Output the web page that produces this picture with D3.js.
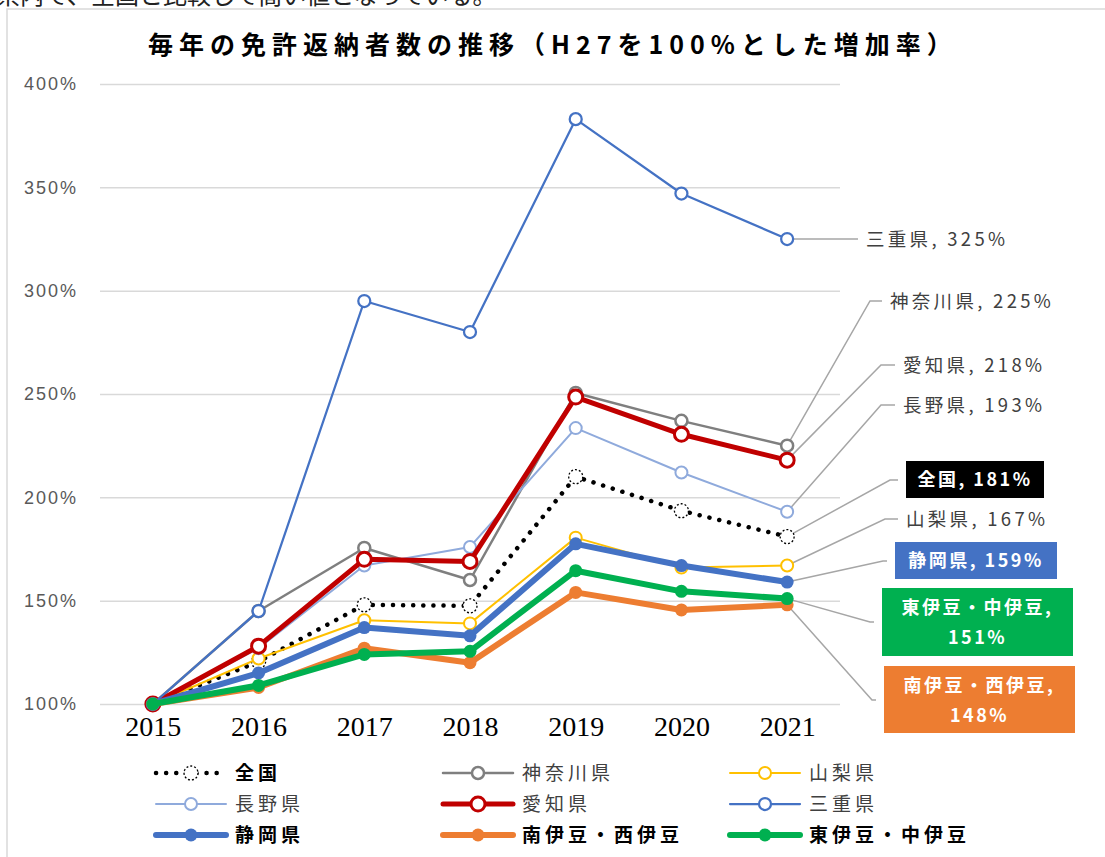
<!DOCTYPE html>
<html>
<head>
<meta charset="utf-8">
<script src="https://cdn.jsdelivr.net/npm/d3@7"></script>
<style>
  body { margin: 0; background: #fff; }
  svg { display: block; }
</style>
</head>
<body>
<div id="chart"></div>
<script>
// data (H27 = 100%)
const years = [2015, 2016, 2017, 2018, 2019, 2020, 2021];
const seriesNames = ["全国", "神奈川県", "山梨県", "長野県", "愛知県", "三重県", "静岡県", "南伊豆・西伊豆", "東伊豆・中伊豆"];
const zenkoku    = [100, 120.5, 148, 147.5, 210, 193.5, 181];
const kanagawa   = [100, 145, 175.5, 160, 250.5, 237, 225];
const yamanashi  = [100, 122, 140.5, 139, 180.5, 166, 167];
const nagano     = [100, 127, 167, 176, 233.5, 212, 193];
const aichi      = [100, 128, 170, 169, 248.5, 230.5, 218];
const mie        = [100, 145, 295, 280, 383, 347, 325];
const shizuoka   = [100, 115, 137, 133, 177.5, 167, 159];
const minamiIzu  = [100, 108, 127, 120, 154, 145.5, 148];
const higashiIzu = [100, 109, 124, 125.5, 164.5, 154.5, 151];
const yTicks = [100, 150, 200, 250, 300, 350, 400];

const seriesValues = [zenkoku, kanagawa, yamanashi, nagano, aichi, mie, shizuoka, minamiIzu, higashiIzu];

// styles, same order as seriesNames
const styles = [
  { color: "#000000", width: 4.5, dotted: true, marker: "dotted", r: 7, bold: true },
  { color: "#7F7F7F", width: 2.5, marker: "open", r: 6, mw: 2.5 },
  { color: "#FFC000", width: 2, marker: "open", r: 6, mw: 2 },
  { color: "#8FAADC", width: 2, marker: "open", r: 6, mw: 2 },
  { color: "#C00000", width: 5, marker: "open", r: 7, mw: 3 },
  { color: "#4472C4", width: 2.25, marker: "open", r: 6, mw: 2.25 },
  { color: "#4472C4", width: 6, marker: "filled", r: 6.5, bold: true },
  { color: "#ED7D31", width: 6, marker: "filled", r: 6.5, bold: true },
  { color: "#00B050", width: 6, marker: "filled", r: 6.5, bold: true }
];

// data-label layout: elbow point, text start, optional box
const labelLayout = [
  { ex: 890, ey: 480, tx: 906, box: [906, 461, 138, 37], fill: "#000000" },
  { ex: 870, ey: 301, tx: 890 },
  { ex: 885, ey: 519, tx: 906 },
  { ex: 881, ey: 405, tx: 903 },
  { ex: 881, ey: 365, tx: 903 },
  { ex: 856, ey: null, tx: 866 },
  { ex: 883, ey: 561, tx: 895, box: [895, 542, 162, 37], fill: "#4472C4" },
  { ex: 872, ey: 700, tx: 884, box: [884, 666, 191, 67], fill: "#ED7D31", wrap: true },
  { ex: 870, ey: 622, tx: 882, box: [882, 588, 191, 68], fill: "#00B050", wrap: true }
];

const W = 1105, H = 857;
const svg = d3.select("#chart").append("svg")
  .attr("width", W).attr("height", H);

// document text cut off above the chart
svg.append("text")
  .attr("x", -4).attr("y", 4)
  .attr("font-family", "Noto Sans CJK JP")
  .attr("font-size", 24)
  .attr("fill", "#222")
  .text("県内で、全国と比較して高い値となっている。");

// chart frame
svg.append("rect")
  .attr("x", 7).attr("y", 9)
  .attr("width", W + 20).attr("height", H + 20)
  .attr("fill", "#fff")
  .attr("stroke", "#d9d9d9")
  .attr("stroke-width", 1.5);

svg.append("text")
  .attr("x", 553).attr("y", 54)
  .attr("text-anchor", "middle")
  .attr("font-family", "Noto Sans CJK JP")
  .attr("font-weight", "bold")
  .attr("font-size", 25)
  .attr("letter-spacing", 6)
  .attr("fill", "#000")
  .text("毎年の免許返納者数の推移（H27を100%とした増加率）");

const x = d3.scalePoint().domain(years).range([100, 840]).padding(0.5);
const y = d3.scaleLinear().domain([100, 400]).range([704, 84]);

// y axis + gridlines
const yAxis = svg.append("g")
  .attr("transform", "translate(100,0)")
  .call(d3.axisLeft(y).tickValues(yTicks).tickSize(-740).tickPadding(22).tickFormat(d => d + "%"));
yAxis.select(".domain").remove();
yAxis.selectAll(".tick line").attr("stroke", "#d9d9d9").attr("stroke-width", 1.5);
yAxis.selectAll(".tick text")
  .attr("font-family", "Liberation Sans")
  .attr("font-size", 18)
  .attr("letter-spacing", 2)
  .attr("fill", "#595959");

// x axis
const xAxis = svg.append("g")
  .attr("transform", "translate(0,704)")
  .call(d3.axisBottom(x).tickSize(0).tickPadding(12));
xAxis.select(".domain").remove();
xAxis.selectAll(".tick text")
  .attr("font-family", "Liberation Serif")
  .attr("font-size", 28)
  .attr("fill", "#000");

const line = d3.line().x((d, i) => x(years[i])).y(d => y(d));

function drawMarker(g, cx, cy, s) {
  if (s.marker === "filled") {
    g.append("circle").attr("cx", cx).attr("cy", cy).attr("r", s.r).attr("fill", s.color);
  } else if (s.marker === "dotted") {
    g.append("circle").attr("cx", cx).attr("cy", cy).attr("r", s.r)
      .attr("fill", "#fff").attr("stroke", "#000").attr("stroke-width", 1.3)
      .attr("stroke-dasharray", "2 2");
  } else {
    g.append("circle").attr("cx", cx).attr("cy", cy).attr("r", s.r)
      .attr("fill", "#fff").attr("stroke", s.color).attr("stroke-width", s.mw);
  }
}

// leader lines + labels (under the series)
const labels = svg.append("g");
seriesValues.forEach((vals, k) => {
  const L = labelLayout[k];
  const last = vals[vals.length - 1];
  const px = x(years[years.length - 1]), py = y(last);
  const ey = L.ey === null ? py : L.ey;
  labels.append("polyline")
    .attr("points", `${px},${py} ${L.ex},${ey} ${L.tx - 8},${ey}`)
    .attr("fill", "none")
    .attr("stroke", "#a6a6a6")
    .attr("stroke-width", 1.5);
  const txt = seriesNames[k] + ", " + Math.round(last) + "%";
  if (L.box) {
    const [bx, by, bw, bh] = L.box;
    labels.append("rect").attr("x", bx).attr("y", by).attr("width", bw).attr("height", bh).attr("fill", L.fill);
    const t = labels.append("text")
      .attr("text-anchor", "middle")
      .attr("font-family", "Noto Sans CJK JP")
      .attr("font-weight", "bold")
      .attr("font-size", 18)
      .attr("letter-spacing", 2.5)
      .attr("fill", "#fff");
    if (L.wrap) {
      t.append("tspan").attr("x", bx + bw / 2).attr("y", by + 26).text(seriesNames[k] + ",");
      t.append("tspan").attr("x", bx + bw / 2).attr("y", by + 56).text(Math.round(last) + "%");
    } else {
      t.attr("x", bx + bw / 2).attr("y", by + bh / 2 + 6.5).text(txt);
    }
  } else {
    labels.append("text")
      .attr("x", L.tx).attr("y", ey + 6.5)
      .attr("font-family", "Noto Sans CJK JP")
      .attr("font-size", 18.5)
      .attr("letter-spacing", 3.3)
      .attr("fill", "#404040")
      .text(txt);
  }
});

// series
const plot = svg.append("g");
seriesValues.forEach((vals, k) => {
  const s = styles[k];
  const g = plot.append("g");
  g.append("path")
    .attr("d", line(vals))
    .attr("fill", "none")
    .attr("stroke", s.color)
    .attr("stroke-width", s.width)
    .attr("stroke-linejoin", "round")
    .attr("stroke-linecap", "round")
    .attr("stroke-dasharray", s.dotted ? "0.1 10" : null);
  vals.forEach((v, i) => drawMarker(g, x(years[i]), y(v), s));
});

// legend
const legend = svg.append("g");
const colX = [156, 443, 730];
const rowY = [773, 804, 835];
seriesNames.forEach((name, k) => {
  const s = styles[k];
  const lx = colX[k % 3], ly = rowY[Math.floor(k / 3)];
  const g = legend.append("g");
  g.append("line")
    .attr("x1", lx).attr("x2", lx + 70).attr("y1", ly).attr("y2", ly)
    .attr("stroke", s.color)
    .attr("stroke-width", s.width)
    .attr("stroke-linecap", "round")
    .attr("stroke-dasharray", s.dotted ? "0.1 10" : null);
  drawMarker(g, lx + 35, ly, s);
  g.append("text")
    .attr("x", lx + 79).attr("y", ly + 7)
    .attr("font-family", "Noto Sans CJK JP")
    .attr("font-weight", s.bold ? "bold" : "normal")
    .attr("font-size", 19)
    .attr("letter-spacing", 4)
    .attr("fill", s.bold ? "#000" : "#404040")
    .text(name);
});
</script>
</body>
</html>
